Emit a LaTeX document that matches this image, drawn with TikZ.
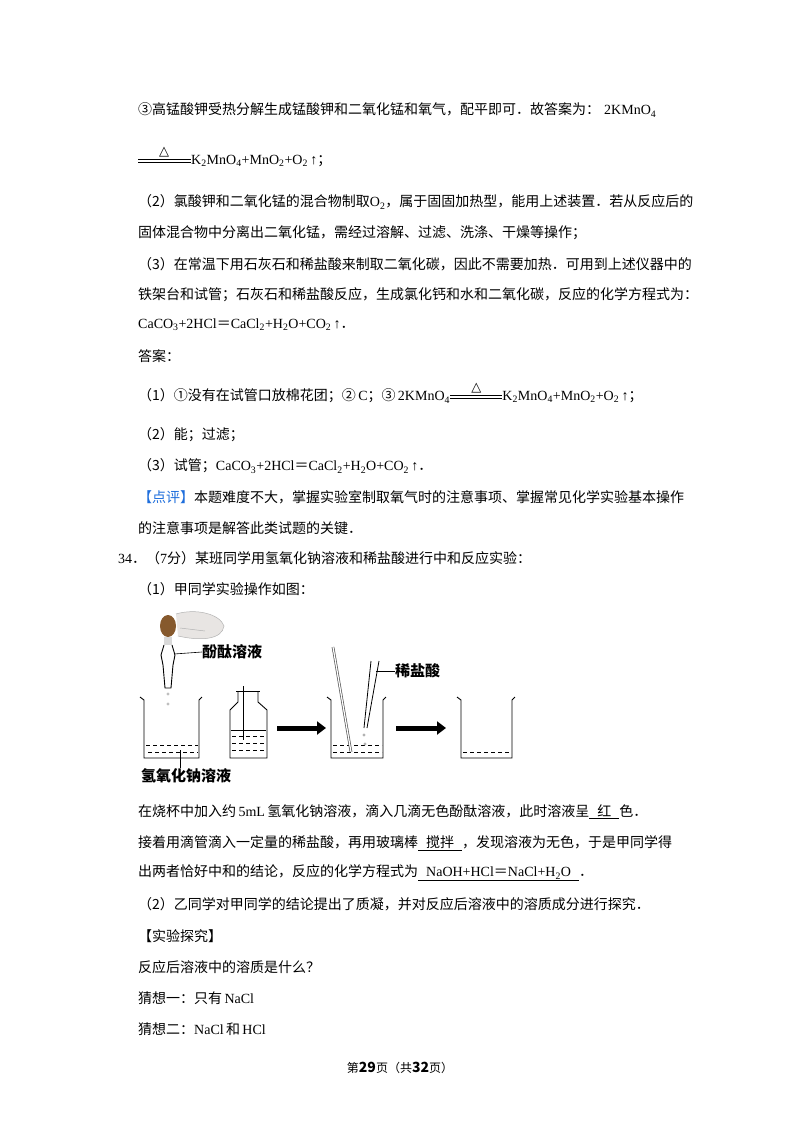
\documentclass[tikz,border=0pt]{standalone}
\usepackage{fontspec}
\usetikzlibrary{arrows.meta,calc}
\setmainfont{Noto Sans CJK SC}
\newfontfamily\latf{Liberation Serif}
\newfontfamily\symf{DejaVu Sans}
\newcommand{\lat}[1]{{\latf #1}}
\newcommand{\sbs}[1]{\textsubscript{#1}}
\newcommand{\blank}[1]{\underline{\hspace{8pt}#1\hspace{8pt}}}
\begin{document}
\begin{tikzpicture}[x=1pt,y=-1pt,
  txt/.style={anchor=west,inner sep=0pt,font=\fontsize{14}{14}\selectfont},
  lab/.style={anchor=west,inner sep=0pt,font=\fontsize{15}{15}\selectfont\bfseries},
  tri/.style={anchor=south,inner sep=0pt,font=\fontsize{13}{13}\selectfont\symf},
  eqbar/.style={double,double distance=2pt,line width=0.6pt},
  uline/.style={line width=0.6pt},
  glass/.style={line width=0.9pt},
  liq/.style={dashed,dash pattern=on 4pt off 3pt,line width=0.7pt},
  bigarrow/.style={-{Triangle[length=9pt,width=13pt]},line width=5pt}]
\useasboundingbox (0,0) rectangle (800,1132);
\fill[white] (0,0) rectangle (800,1132);
% text lines
\node[txt] (l1) at (138,110) {③高锰酸钾受热分解生成锰酸钾和二氧化锰和氧气，配平即可．故答案为：\hspace{4pt}\lat{2KMnO\sbs{4}}};
\coordinate (e1a) at (138,161); \coordinate (e1b) at (191,161);
\draw[eqbar] (e1a) -- (e1b);
\node[tri] (d1) at (164,157) {△};
\node[txt] (l2) at (191,161) {\lat{K\sbs{2}MnO\sbs{4}+MnO\sbs{2}+O\sbs{2}\,↑}；};
\node[txt] (l3) at (138,202) {（2）氯酸钾和二氧化锰的混合物制取\lat{O\sbs{2}}，属于固固加热型，能用上述装置．若从反应后的};
\node[txt] (l4) at (138,233) {固体混合物中分离出二氧化锰，需经过溶解、过滤、洗涤、干燥等操作；};
\node[txt] (l5) at (138,264) {（3）在常温下用石灰石和稀盐酸来制取二氧化碳，因此不需要加热．可用到上述仪器中的};
\node[txt] (l6) at (138,295) {铁架台和试管；石灰石和稀盐酸反应，生成氯化钙和水和二氧化碳，反应的化学方程式为：};
\node[txt] (l7) at (138,325) {\lat{CaCO\sbs{3}+2HCl}＝\lat{CaCl\sbs{2}+H\sbs{2}O+CO\sbs{2}\,↑}．};
\node[txt] (l8) at (138,356) {答案：};
\node[txt] (l9) at (138,396) {（1）①没有在试管口放棉花团；②\,\lat{C}；③\,\lat{2KMnO\sbs{4}}};
\coordinate (e2a) at ($(l9.east)+(0,1)$);
\coordinate (e2b) at ($(e2a)+(52,0)$);
\draw[eqbar] (e2a) -- (e2b);
\node[tri] (d2) at ($(e2a)!0.5!(e2b)+(0,-4)$) {△};
\node[txt] (l9b) at (e2b) {\lat{K\sbs{2}MnO\sbs{4}+MnO\sbs{2}+O\sbs{2}\,↑}；};
\node[txt] (l10) at (138,435) {（2）能；过滤；};
\node[txt] (l11) at (138,466) {（3）试管；\lat{CaCO\sbs{3}+2HCl}＝\lat{CaCl\sbs{2}+H\sbs{2}O+CO\sbs{2}\,↑}．};
\node[txt] (l12) at (138,497) {\textcolor[RGB]{30,110,220}{【点评】}本题难度不大，掌握实验室制取氧气时的注意事项、掌握常见化学实验基本操作};
\node[txt] (l13) at (138,528) {的注意事项是解答此类试题的关键．};
\node[txt] (l14) at (118,558) {\lat{34}．（\lat{7}分）某班同学用氢氧化钠溶液和稀盐酸进行中和反应实验：};
\node[txt] (l15) at (138,589) {（1）甲同学实验操作如图：};
% figure
% hand
\fill[orange!10!gray!20] (176,614) .. controls (196,608) and (220,614) .. (224,626) .. controls (222,640) and (200,641) .. (178,636) -- cycle;
\draw[gray!60,line width=0.5pt] (176,614) .. controls (196,608) and (220,614) .. (224,626) .. controls (222,640) and (200,641) .. (178,636);
\draw[gray!60,line width=0.5pt] (180,628) -- (205,631);
\fill[brown!70!black] (168,626) ellipse (8pt and 11pt);
\fill[gray!30] (164,637) rectangle (172,645);
% dropper
\draw[glass] (164,645) -- (161,655) -- (163,665) -- (165,688) -- (171,688) -- (173,665) -- (175,655) -- (172,645);
\fill[gray!50] (168,694) circle (1.6); \fill[gray!50] (168,704) circle (1.6);
\node[lab] (t1) at (202,652) {酚酞溶液};
\draw[uline] (174,654) -- (t1.west);
% beaker 1
\draw[glass] (140,697) -- (144,700) -- (144,758) -- (199,758) -- (199,700) -- (202,697);
\draw[liq] (146,745) -- (198,745); \draw[liq] (148,752) -- (198,752);
\coordinate (b1l) at (180,750);
\node[lab] (t2) at (141,776) {氢氧化钠溶液};
\draw[uline] (b1l) -- (180,768);
% bottle
\draw[glass] (236,691) -- (260,691);
\draw[glass] (238,691) -- (238,702) -- (230,710) -- (230,758) -- (267,758) -- (267,710) -- (258,702) -- (258,691);
\draw[uline] (243,686) -- (243,740);
\draw[line width=0.8pt] (231,730) -- (266,730);
\draw[liq] (232,736) -- (266,736); \draw[liq] (232,743) -- (266,743); \draw[liq] (232,750) -- (266,750);
% arrow 1
\coordinate (a1s) at (277,728); \coordinate (a1e) at (326,728);
\draw[bigarrow] (a1s) -- (a1e);
% beaker 3
\draw[glass] (327,697) -- (331,700) -- (331,758) -- (383,758) -- (383,700) -- (386,697);
\draw[liq] (333,745) -- (382,745); \draw[liq] (333,752) -- (382,752);
\draw[line width=2.6pt,gray!70!black] (333,647) -- (351,752);
\draw[line width=1.2pt,white] (333,647) -- (351,752);
\draw[line width=0.8pt] (371,661) -- (364,728); \draw[line width=0.8pt] (379,661) -- (367,728);
\fill[gray!60] (364,735) circle (1.6); \fill[gray!60] (365,744) circle (1.6);
\node[lab] (t3) at (395,671) {稀盐酸};
\draw[uline] (376,671) -- (t3.west);
% arrow 2
\coordinate (a2s) at (396,728); \coordinate (a2e) at (446,728);
\draw[bigarrow] (a2s) -- (a2e);
% beaker 4
\draw[glass] (457,697) -- (461,700) -- (461,758) -- (512,758) -- (512,700) -- (515,697);
\draw[liq] (463,752) -- (511,752);
% lower text
\node[txt] (m1) at (138,812) {在烧杯中加入约\,\lat{5mL}\,氢氧化钠溶液，滴入几滴无色酚酞溶液，此时溶液呈\blank{红}色．};
\node[txt] (m2) at (138,843) {接着用滴管滴入一定量的稀盐酸，再用玻璃棒\blank{搅拌}，发现溶液为无色，于是甲同学得};
\node[txt] (m3) at (138,873) {出两者恰好中和的结论，反应的化学方程式为\blank{\lat{NaOH+HCl}＝\lat{NaCl+H\sbs{2}O}}．};
\node[txt] (m4) at (138,904) {（2）乙同学对甲同学的结论提出了质凝，并对反应后溶液中的溶质成分进行探究．};
\node[txt] (m5) at (138,936) {【实验探究】};
\node[txt] (m6) at (138,967) {反应后溶液中的溶质是什么？};
\node[txt] (m7) at (138,998) {猜想一：只有\,\lat{NaCl}};
\node[txt] (m8) at (138,1029) {猜想二：\lat{NaCl}\,和\,\lat{HCl}};
\node[anchor=center,inner sep=0pt,font=\fontsize{12}{12}\selectfont] (ft) at (400,1068) {第\textbf{\fontsize{14}{14}\selectfont 29}页（共\textbf{\fontsize{14}{14}\selectfont 32}页）};
\end{tikzpicture}
\end{document}
